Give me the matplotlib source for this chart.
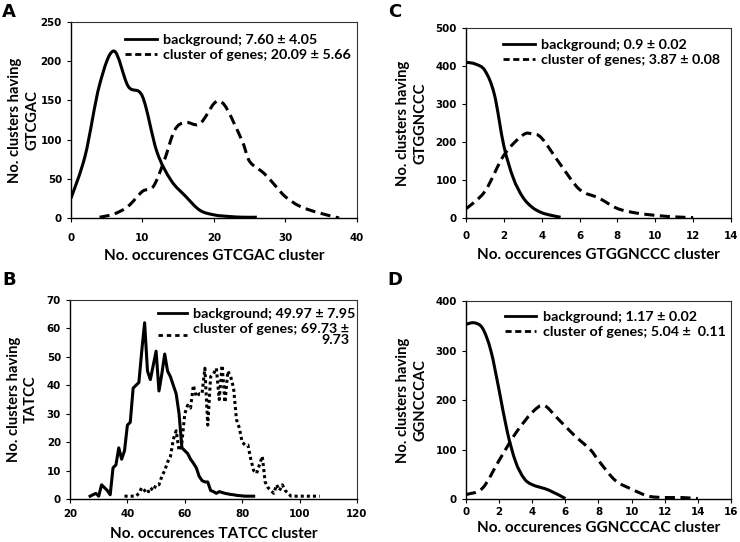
import matplotlib
matplotlib.use("Agg")
import matplotlib.pyplot as plt
from matplotlib.path import Path
from matplotlib.patches import PathPatch
from matplotlib.lines import Line2D

# panel A - GTCGAC
a_bg_x = [0, 2, 4, 6, 8, 10, 12, 14, 16, 18, 20, 22, 24, 26]
a_bg_y = [25, 80, 170, 213, 168, 155, 85, 48, 28, 10, 4, 2, 1, 1]
a_cl_x = [4, 6, 8, 10, 11.5, 13, 14.5, 16, 18, 20, 21, 22, 24, 25, 27, 28.5, 30, 32, 34.5, 37.5]
a_cl_y = [1, 5, 15, 34, 40, 72, 112, 122, 120, 146, 148, 136, 97, 72, 57, 42, 27, 15, 7, 0]

# panel C - GTGGNCCC
c_bg_x = [0, 0.5, 1, 1.5, 2, 2.5, 3, 3.5, 4, 4.5, 5]
c_bg_y = [410, 405, 388, 325, 190, 105, 55, 28, 14, 7, 2]
c_cl_x = [0, 1, 2, 3, 3.5, 4, 5, 6, 7, 8, 9, 10, 11, 12]
c_cl_y = [24, 70, 165, 218, 221, 210, 140, 75, 53, 25, 13, 7, 3, 1]

# panel B - TATCC
b_bg_x = list(range(27, 85))
b_bg_y = [1, 1.5, 2, 1, 5, 4, 3, 1.5, 11, 12, 18, 14, 17, 26, 27, 39, 40, 41, 52, 62,
          45, 42, 47, 52, 38, 44, 51, 45, 43, 40, 37, 30, 18, 17, 16, 14, 12.6, 11, 8, 6.5,
          6, 6, 3, 2.6, 2, 2.6, 2.3, 2, 1.8, 1.6, 1.5, 1.3, 1.2, 1.1, 1, 1, 1, 1]
b_cl_x = list(range(39, 108))
b_cl_y = [1, 1, 1, 1, 1, 2, 4, 3, 2, 4, 3, 5, 5, 8, 10, 13, 15, 21, 24, 17,
          20, 30, 33, 32, 40, 36, 37, 37, 46, 26, 43, 44, 46, 35, 47, 34, 45, 43, 39, 28,
          25, 20, 19, 19, 14, 10, 9, 12, 15, 6, 4, 3, 2, 5, 3, 5, 3, 2, 1, 1,
          1, 1, 1, 1, 1, 1, 1, 1, 1]

# panel D - GGNCCCAC
d_bg_x = [0, 0.5, 1, 1.5, 2, 2.5, 3, 3.5, 4, 5, 6]
d_bg_y = [353, 356, 345, 300, 220, 135, 75, 42, 29, 18, 1]
d_cl_x = [0, 1, 2, 3, 4, 4.7, 5.5, 6.5, 7.5, 8, 9, 10, 11, 12, 13, 14]
d_cl_y = [9, 22, 78, 133, 175, 189, 164, 130, 100, 78, 38, 20, 6, 3, 3, 1]

LABEL_FONT = "Lato"
TICK_FONT = "DejaVu Sans"
DASH = (0, (3.3, 1.8))
LEG_DASH = (0, (2.2, 1.3))


def smooth_path(xs, ys):
    # catmull-rom through the points, like a "smoothed line" in a spreadsheet
    pts = list(zip(xs, ys))
    verts = [pts[0]]
    codes = [Path.MOVETO]
    n = len(pts)
    for i in range(n - 1):
        p0 = pts[i - 1] if i > 0 else pts[i]
        p1 = pts[i]
        p2 = pts[i + 1]
        p3 = pts[i + 2] if i + 2 < n else pts[i + 1]
        c1 = (p1[0] + (p2[0] - p0[0]) / 6, p1[1] + (p2[1] - p0[1]) / 6)
        c2 = (p2[0] - (p3[0] - p1[0]) / 6, p2[1] - (p3[1] - p1[1]) / 6)
        verts += [c1, c2, p2]
        codes += [Path.CURVE4] * 3
    return Path(verts, codes)


def draw_curve(ax, xs, ys, ls):
    patch = PathPatch(smooth_path(xs, ys), fill=False, lw=2.2, ls=ls,
                      edgecolor="black", capstyle="butt", joinstyle="round")
    ax.add_patch(patch)


def style_axes(ax, xlim, xstep, ylim, ystep, xlabel, ylabel, xpad, xlab_y, ylab_x):
    ax.set_xlim(*xlim)
    ax.set_ylim(*ylim)
    ax.set_xticks(range(xlim[0], xlim[1] + 1, xstep))
    ax.set_yticks(range(ylim[0], ylim[1] + 1, ystep))
    for lab in ax.get_xticklabels() + ax.get_yticklabels():
        lab.set_fontfamily(TICK_FONT)
        lab.set_fontweight("bold")
        lab.set_fontsize(7.4)
    ax.tick_params(direction="out", length=3, width=0.8)
    ax.tick_params(axis="x", pad=xpad)
    ax.tick_params(axis="y", pad=3.5)
    for side in ["left", "bottom"]:
        ax.spines[side].set_linewidth(1.0)
    for side in ["top", "right"]:
        ax.spines[side].set_linewidth(0.8)
        ax.spines[side].set_color("#333333")
    ax.set_xlabel(xlabel, fontfamily=LABEL_FONT, fontweight="bold", fontsize=11)
    ax.set_ylabel(ylabel, fontfamily=LABEL_FONT, fontweight="bold", fontsize=10.6,
                  linespacing=1.3)
    ax.xaxis.set_label_coords(0.5, xlab_y)
    ax.yaxis.set_label_coords(ylab_x, 0.5)


def add_legend(ax, labels, styles, anchor, hlen=2.2):
    handles = [Line2D([], [], color="black", lw=2.0, ls=s) for s in styles]
    leg = ax.legend(handles, labels, loc="upper left", bbox_to_anchor=anchor,
                    frameon=False, borderpad=0, borderaxespad=0, handlelength=hlen,
                    handletextpad=0.45, labelspacing=0.2,
                    prop={"family": LABEL_FONT, "weight": "bold", "size": 10.3})
    for t in leg.get_texts():
        t.set_multialignment("right")
        t.set_linespacing(0.95)
    return leg


fig = plt.figure(figsize=(7.4, 5.42), dpi=100)

axA = fig.add_axes([0.0959, 0.5978, 0.3865, 0.3616])
draw_curve(axA, a_bg_x, a_bg_y, "-")
draw_curve(axA, a_cl_x, a_cl_y, DASH)
style_axes(axA, (0, 40), 10, (0, 250), 50, "No. occurences GTCGAC cluster",
           "No. clusters having\nGTCGAC", 8, -0.16, -0.11)
add_legend(axA, ["background; 7.60 ± 4.05", "cluster of genes; 20.09 ± 5.66"],
           ["-", LEG_DASH], (0.19, 0.94))

axC = fig.add_axes([0.6297, 0.5978, 0.3581, 0.3506])
draw_curve(axC, c_bg_x, c_bg_y, "-")
draw_curve(axC, c_cl_x, c_cl_y, DASH)
style_axes(axC, (0, 14), 2, (0, 500), 100, "No. occurences GTGGNCCC cluster",
           "No. clusters having\nGTGGNCCC", 6.5, -0.16, -0.145)
add_legend(axC, ["background; 0.9 ± 0.02", "cluster of genes; 3.87 ± 0.08"],
           ["-", LEG_DASH], (0.14, 0.94))

axB = fig.add_axes([0.0946, 0.0793, 0.3878, 0.3672])
axB.plot(b_bg_x, b_bg_y, color="black", lw=2.2, solid_joinstyle="round")
axB.plot(b_cl_x, b_cl_y, color="black", lw=2.2, ls=(0, (1, 1)),
         dash_capstyle="butt", dash_joinstyle="round")
style_axes(axB, (20, 120), 20, (0, 70), 10, "No. occurences TATCC cluster",
           "No. clusters having\nTATCC", 4.3, -0.14, -0.112)
add_legend(axB, ["background; 49.97 ± 7.95", "cluster of genes; 69.73 ±\n9.73"],
           ["-", (0, (1.6, 1.4))], (0.307, 0.96), hlen=2.0)

axD = fig.add_axes([0.6297, 0.0793, 0.3581, 0.3653])
draw_curve(axD, d_bg_x, d_bg_y, "-")
draw_curve(axD, d_cl_x, d_cl_y, DASH)
style_axes(axD, (0, 16), 2, (0, 400), 100, "No. occurences GGNCCCAC cluster",
           "No. clusters having\nGGNCCCAC", 2.9, -0.112, -0.145)
add_legend(axD, ["background; 1.17 ± 0.02", "cluster of genes; 5.04 ±  0.11"],
           ["-", LEG_DASH], (0.147, 0.95))

for letter, x, y in [("A", 0.003, 0.995), ("C", 0.524, 0.995),
                     ("B", 0.003, 0.5), ("D", 0.524, 0.5)]:
    fig.text(x, y, letter, fontfamily="DejaVu Sans", fontweight="bold",
             fontsize=13, va="top", ha="left")

fig.savefig("out.png", dpi=100)
plt.close(fig)
